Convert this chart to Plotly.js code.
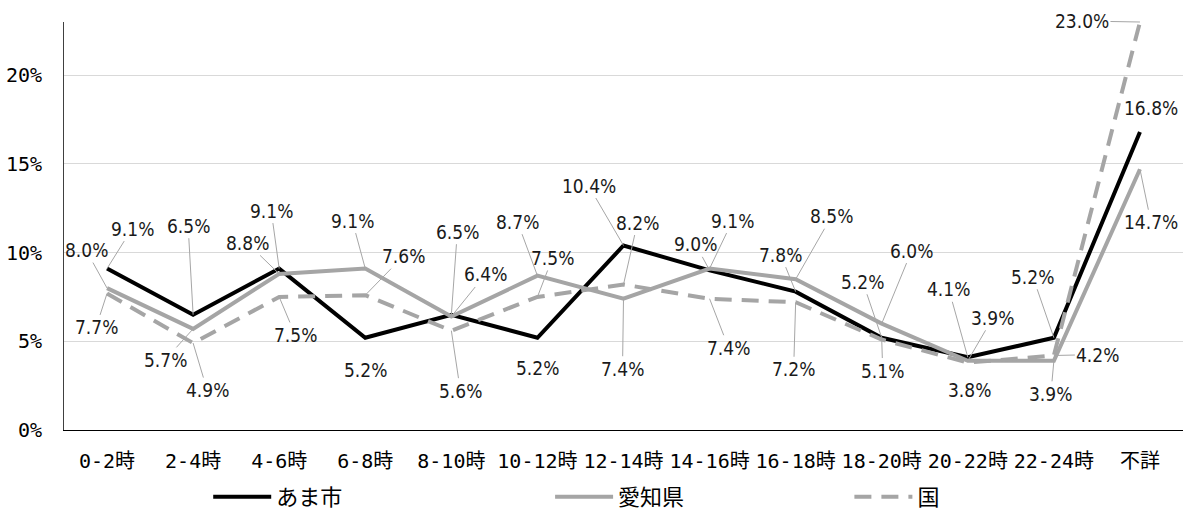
<!DOCTYPE html>
<html>
<head>
<meta charset="utf-8">
<script src="https://cdn.plot.ly/plotly-3.0.1.min.js"></script>
<style>
html,body{margin:0;padding:0;background:#fff;}
#chart{width:1183px;height:517px;}
</style>
</head>
<body>
<div id="chart"></div>
<script>
// ---- data ----
const categories = ["0-2時","2-4時","4-6時","6-8時","8-10時","10-12時","12-14時","14-16時","16-18時","18-20時","20-22時","22-24時","不詳"];
const seriesNames = ["あま市","愛知県","国"];
const amaValues   = [9.1, 6.5, 9.1, 5.2, 6.5, 5.2, 10.4, 9.0, 7.8, 5.2, 4.1, 5.2, 16.8];
const aichiValues = [8.0, 5.7, 8.8, 9.1, 6.4, 8.7, 7.4, 9.1, 8.5, 6.0, 3.9, 3.9, 14.7];
const kuniValues  = [7.7, 4.9, 7.5, 7.6, 5.6, 7.5, 8.2, 7.4, 7.2, 5.1, 3.8, 4.2, 23.0];
const yTickValues = [0, 0.05, 0.10, 0.15, 0.20];

// ---- label placement (pixel offsets from each point: [dx, dy, leader]) ----
const amaLabelPos = [[25,-40,1],[-5,-89,1],[-8,-58,1],[0,32,0],[6,-83,1],[0,30,0],[-35,-60,1],[-14,-26,1],[-15,-37,1],[-19,-56,1],[-19,-68,1],[-21,-61,1],[11,-24,0]];
const aichiLabelPos = [[-21,-38,1],[-28,31,1],[-32,-31,1],[-13,-48,1],[34,-42,1],[-20,-54,1],[-1,70,1],[23,-48,1],[36,-63,1],[30,-73,1],[25,-43,1],[-3,33,1],[11,53,1]];
const kuniLabelPos = [[-11,34,1],[14,47,1],[16,38,1],[38,-39,1],[9,60,1],[15,-39,1],[14,-62,1],[19,49,1],[-2,67,1],[1,31,1],[2,27,0],[44,-1,1],[-58,-1,1]];

const GRAY = '#a5a5a5';
const NUMFONT = '"Liberation Sans Narrow", "DejaVu Sans Condensed", "Noto Sans CJK JP", sans-serif';
const TICKFONT = '"DejaVu Sans Mono", "Noto Sans CJK JP", monospace';
const JPFONT = '"Noto Sans CJK JP", sans-serif';

const toFrac = arr => arr.map(v => v / 100);

const traces = [
  {x: categories, y: toFrac(amaValues), name: seriesNames[0], type: 'scatter', mode: 'lines',
   line: {color: '#000000', width: 4}, legend: 'legend', cliponaxis: false, hoverinfo: 'skip'},
  {x: categories, y: toFrac(aichiValues), name: seriesNames[1], type: 'scatter', mode: 'lines',
   line: {color: GRAY, width: 4}, legend: 'legend2', cliponaxis: false, hoverinfo: 'skip'},
  {x: categories, y: toFrac(kuniValues), name: seriesNames[2], type: 'scatter', mode: 'lines',
   line: {color: GRAY, width: 4, dash: '17px,10px'}, legend: 'legend3', cliponaxis: false, hoverinfo: 'skip'}
];

function makeLabels(values, pos) {
  return values.map((v, i) => {
    const p = pos[i];
    const base = {
      x: categories[i], y: v / 100, xref: 'x', yref: 'y',
      text: v.toFixed(1) + '%',
      font: {family: NUMFONT, size: 19, color: '#1a1a1a'},
      bgcolor: 'rgba(0,0,0,0)', borderpad: 1
    };
    if (p[2]) {
      return Object.assign(base, {showarrow: true, arrowhead: 0, arrowwidth: 1, arrowcolor: '#a6a6a6',
        standoff: 0, ax: p[0], ay: p[1]});
    }
    return Object.assign(base, {showarrow: false, xshift: p[0], yshift: -p[1]});
  });
}

const annotations = [].concat(
  makeLabels(amaValues, amaLabelPos),
  makeLabels(aichiValues, aichiLabelPos),
  makeLabels(kuniValues, kuniLabelPos)
);

const legendBase = {orientation: 'h', xref: 'container', yref: 'container', yanchor: 'middle', xanchor: 'left',
  y: 0.039, font: {family: JPFONT, size: 22, color: '#000'}, bgcolor: 'rgba(0,0,0,0)', itemwidth: 58};

const layout = {
  width: 1183, height: 517,
  margin: {l: 64, r: 0, t: 22, b: 87},
  paper_bgcolor: '#ffffff', plot_bgcolor: '#ffffff',
  showlegend: true,
  legend: Object.assign({}, legendBase, {x: 0.176}),
  legend2: Object.assign({}, legendBase, {x: 0.465}),
  legend3: Object.assign({}, legendBase, {x: 0.718}),
  xaxis: {
    type: 'category', range: [-0.5, 12.5], showline: true, linecolor: '#000000', linewidth: 1,
    showgrid: false, zeroline: false, ticks: '', ticklabelstandoff: 13,
    tickfont: {family: TICKFONT, size: 20, color: '#000'}, fixedrange: true
  },
  yaxis: {
    range: [0, 0.23], tickvals: yTickValues, tickformat: '.0%', showline: true, linecolor: '#404040', linewidth: 1,
    showgrid: true, gridcolor: '#d9d9d9', gridwidth: 1, zeroline: false, ticks: '', ticklabelstandoff: 17,
    tickfont: {family: TICKFONT, size: 20, color: '#000'}, fixedrange: true
  },
  annotations: annotations
};

Plotly.newPlot('chart', traces, layout, {staticPlot: true, displayModeBar: false});
</script>
</body>
</html>
